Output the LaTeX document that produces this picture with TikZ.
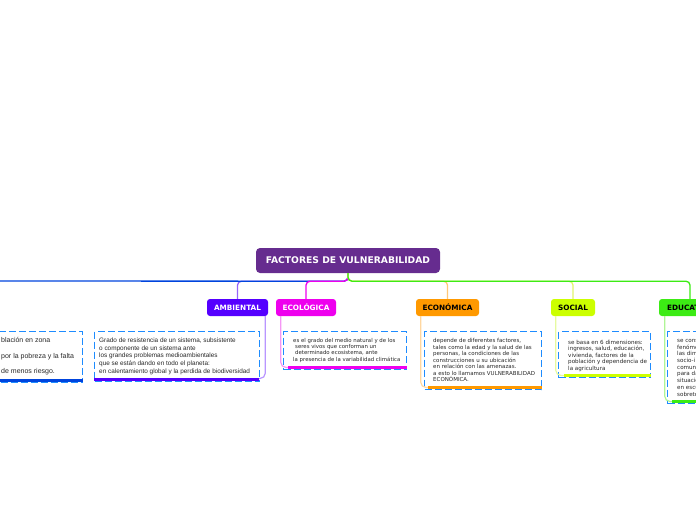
\documentclass[tikz,border=0pt]{standalone}
\usepackage{fontspec}
\setmainfont{DejaVu Sans}
\newfontfamily\arialfont{Liberation Sans}

\definecolor{rootpurple}{RGB}{102,44,143}
\definecolor{ambcol}{RGB}{85,0,255}
\definecolor{ecocol}{RGB}{238,0,238}
\definecolor{econcol}{RGB}{255,153,0}
\definecolor{soccol}{RGB}{204,255,0}
\definecolor{educol}{RGB}{60,235,20}
\definecolor{farblue}{RGB}{0,68,221}
\definecolor{boxblue}{RGB}{30,140,255}
\definecolor{ambline}{RGB}{150,100,250}
\definecolor{econline}{RGB}{255,200,120}
\definecolor{socline}{RGB}{225,245,110}
\definecolor{amblink}{RGB}{185,150,255}
\definecolor{ecolink}{RGB}{245,150,245}
\definecolor{econlink}{RGB}{255,215,160}
\definecolor{soclink}{RGB}{230,250,160}
\definecolor{edulink}{RGB}{175,245,150}
\definecolor{desctxt}{RGB}{40,40,40}

\begin{document}
\begin{tikzpicture}[x=1pt,y=-1pt,
    cat/.style={rounded corners=3pt, minimum height=17pt, inner sep=0pt,
        font=\bfseries\fontsize{7.3}{8}\selectfont},
    descbox/.style={draw=boxblue, dash pattern=on 7pt off 3pt, line width=1.4pt,
        fill=white, anchor=north west, inner sep=0pt},
    desctext/.style={anchor=west, inner sep=0pt, align=left, text=desctxt},
    bar/.style={line width=3pt},
    branch/.style={line width=1.3pt, rounded corners=4pt},
    link/.style={line width=1.2pt, rounded corners=5pt}]
\useasboundingbox (0,0) rectangle (696,520);

% central topic
\node[fill=rootpurple, text=white, rounded corners=4pt, minimum width=184pt,
    minimum height=25pt, font=\bfseries\fontsize{9.2}{10}\selectfont]
    (root) at (348,260.5) {FACTORES DE VULNERABILIDAD};

% factors
\node[cat, fill=ambcol, text=white, minimum width=61pt] (amb) at (237.5,307.5) {AMBIENTAL};
\node[cat, fill=ecocol, text=white, minimum width=60pt] (eco) at (306,307.5) {ECOLÓGICA};
\node[cat, fill=econcol, minimum width=63pt] (econ) at (447.5,307.5) {ECONÓMICA};
\node[cat, fill=soccol, minimum width=44pt] (soc) at (573,307.5) {SOCIAL};
\node[cat, fill=educol, minimum width=62pt] (edu) at (690,307.5) {EDUCATIVA};

% branches
\coordinate (lefthub) at (-40,281);
\draw[branch, ambline] (root.south) -- ++(0,8) -| (amb.north);
\draw[branch, farblue] (root.south) -- ++(0,8) -- (lefthub);
\draw[branch, ecocol] (root.south) -- ++(0,8) -| (eco.north);
\draw[branch, econline] (root.south) -- ++(0,8) -| (econ.north);
\draw[branch, socline] (root.south) -- ++(0,8) -| (soc.north);
\draw[branch, educol] (root.south) -- ++(0,8) -| (edu.north);

% descriptions
\node[descbox, minimum width=142pt, minimum height=51pt] (leftbox) at (-60,331) {};
\node[descbox, minimum width=165pt, minimum height=50pt] (ambbox) at (94,331) {};
\node[descbox, minimum width=123pt, minimum height=38pt] (ecobox) at (283,331) {};
\node[descbox, minimum width=117pt, minimum height=58pt] (econbox) at (424,331) {};
\node[descbox, minimum width=92pt, minimum height=46pt] (socbox) at (558,331) {};
\node[descbox, minimum width=80pt, minimum height=72pt] (edubox) at (667,331) {};

\draw[link, amblink] ([xshift=-3pt]amb.south east) |- ([yshift=4pt]ambbox.south east);
\draw[link, ecolink] ([xshift=5pt]eco.south west) |- ([xshift=5pt,yshift=3pt]ecobox.south west);
\draw[link, econlink] ([xshift=5pt]econ.south west) |- ([xshift=4pt,yshift=3pt]econbox.south west);
\draw[link, soclink] ([xshift=5pt]soc.south west) |- ([xshift=6pt,yshift=3pt]socbox.south west);
\draw[link, edulink] ([xshift=6pt]edu.south west) |- ([xshift=5pt,yshift=3pt]edubox.south west);

\draw[bar, farblue] ([yshift=3pt]leftbox.south west) -- ([yshift=3pt]leftbox.south east);
\draw[bar, ambcol] ([yshift=3pt]ambbox.south west) -- ([xshift=-1pt,yshift=3pt]ambbox.south east);
\draw[bar, ecocol] ([xshift=5pt,yshift=3pt]ecobox.south west) -- ([yshift=3pt]ecobox.south east);
\draw[bar, econcol] ([xshift=4pt,yshift=3pt]econbox.south west) -- ([yshift=3pt]econbox.south east);
\draw[bar, soccol] ([xshift=6pt,yshift=3pt]socbox.south west) -- ([yshift=3pt]socbox.south east);
\draw[bar, educol] ([xshift=5pt,yshift=3pt]edubox.south west) -- ([yshift=3pt]edubox.south east);

\node[desctext, font=\arialfont\fontsize{7}{15.5}\selectfont] (lefttext) at (1,356.5)
    {blación en zona\\ por la pobreza y la falta\\de menos riesgo.};
\node[desctext, font=\arialfont\fontsize{6.4}{7.7}\selectfont] (ambtext) at ([xshift=5pt,yshift=0.5pt]ambbox.west)
    {Grado de resistencia de un sistema, subsistente\\ o componente de un sistema ante\\
     los grandes problemas medioambientales\\ que se están dando en todo el planeta:\\
     en calentamiento global y la perdida de biodiversidad};
\node[desctext, font=\fontsize{5.4}{6.3}\selectfont] (ecotext) at ([xshift=10pt,yshift=0.5pt]ecobox.west)
    {es el grado del medio natural y de los\\ \hspace{2pt}seres vivos que conforman un\\
     \hspace{2pt}determinado ecosistema, ante\\ la presencia de la variabilidad climática};
\node[desctext, font=\fontsize{5.5}{6.5}\selectfont] (econtext) at ([xshift=9pt,yshift=0.5pt]econbox.west)
    {depende de diferentes factores,\\ tales como la edad y la salud de las\\
     personas, la condiciones de las\\ construcciones u su ubicación\\
     en relación con las amenazas.\\ a esto lo llamamos VULNERABILIDAD\\ ECONÓMICA.};
\node[desctext, font=\fontsize{5.6}{6.5}\selectfont] (soctext) at ([xshift=10pt,yshift=-1pt]socbox.west)
    {se basa en 6 dimensiones:\\ ingresos, salud, educación,\\ vivienda, factores de la\\
     población y dependencia de\\ la agricultura};
\node[desctext, font=\fontsize{5.6}{6.7}\selectfont] (edutext) at ([xshift=10pt]edubox.west)
    {se cons\\ fenóme\\ las dim\\ socio-i\\ comuni\\ para da\\ situació\\ en escu\\ sobreto};
\end{tikzpicture}
\end{document}
